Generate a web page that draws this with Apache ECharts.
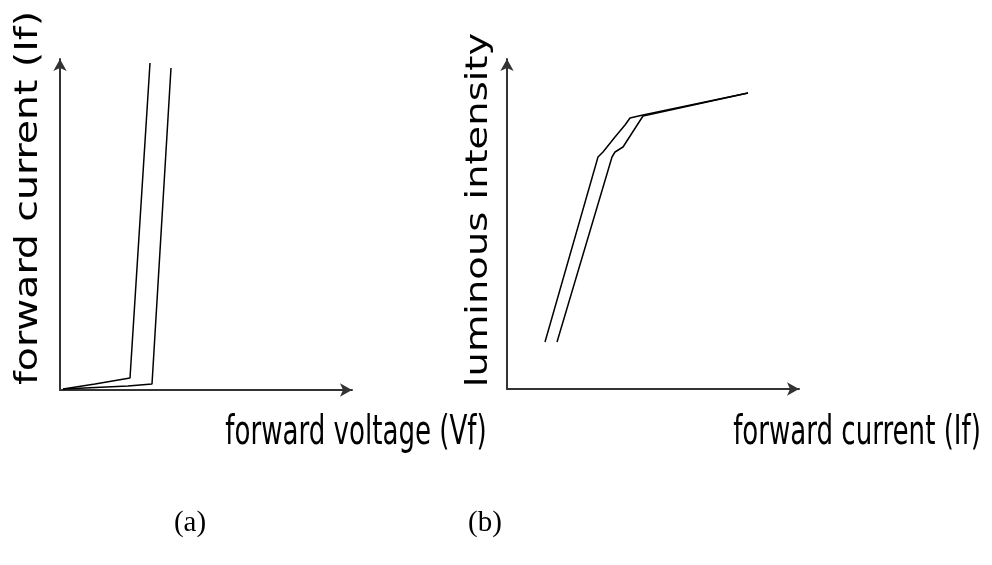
<!DOCTYPE html>
<html>
<head>
<meta charset="utf-8">
<script src="https://cdn.jsdelivr.net/npm/echarts@6/dist/echarts.min.js"></script>
<style>
html,body{margin:0;padding:0;background:#fff;}
#c{width:992px;height:565px;}
</style>
</head>
<body>
<div id="c"></div>
<script>
// (a) forward voltage vs forward current, two curves (schematic units)
var aLeftV  = [3, 35, 70, 90];
var aLeftI  = [1, 6, 12, 327];
var aRightV = [3, 68, 92, 111];
var aRightI = [1, 4, 6, 322];
// (b) forward current vs luminous intensity, two curves
var bLeftI  = [38, 91, 96, 108, 118, 123, 136, 241];
var bLeftL  = [47, 232, 237, 252, 264, 271, 274, 296];
var bRightI = [50, 105, 108, 116, 136, 241];
var bRightL = [47, 232, 237, 242, 273, 296];

var axisMax = [292, 331, 292, 330];
var titles = {
  aY: 'forward current (If)',
  aX: 'forward voltage (Vf)',
  bY: 'luminous intensity',
  bX: 'forward current (If)',
  aCap: '(a)',
  bCap: '(b)'
};

function zip(xs, ys){ return xs.map(function(v,i){ return [v, ys[i]]; }); }

function axis(gi, max){
  return {
    type: 'value', gridIndex: gi, min: 0, max: max,
    axisLine: { show: true, onZero: false, symbol: ['none','arrow'], symbolSize: [10, 12],
                lineStyle: { color: '#333', width: 2 } },
    axisTick: { show: false }, axisLabel: { show: false }, splitLine: { show: false }
  };
}
function line(xi, data){
  return { type: 'line', xAxisIndex: xi, yAxisIndex: xi, data: data, showSymbol: false,
           symbol: 'none', lineStyle: { color: '#000', width: 1.5 }, silent: true };
}

var chart = echarts.init(document.getElementById('c'));
chart.setOption({
  animation: false,
  backgroundColor: '#fff',
  grid: [
    { left: 60, top: 59, width: 292, height: 331 },
    { left: 507, top: 59, width: 292, height: 330 }
  ],
  xAxis: [axis(0, axisMax[0]), axis(1, axisMax[2])],
  yAxis: [axis(0, axisMax[1]), axis(1, axisMax[3])],
  series: [
    line(0, zip(aLeftV, aLeftI)),
    line(0, zip(aRightV, aRightI)),
    line(1, zip(bLeftI, bLeftL)),
    line(1, zip(bRightI, bRightL))
  ],
  graphic: [
    { type: 'text', x: 29, y: 198, rotation: Math.PI/2, scaleX: 1.23,
      style: { text: titles.aY, font: '32px "DejaVu Sans"', fill: '#000', textAlign: 'center', textVerticalAlign: 'middle' } },
    { type: 'text', x: 479, y: 210, rotation: Math.PI/2, scaleX: 1.24,
      style: { text: titles.bY, font: '31px "DejaVu Sans"', fill: '#000', textAlign: 'center', textVerticalAlign: 'middle' } },
    { type: 'text', x: 356, y: 434, scaleY: 1.38,
      style: { text: titles.aX, font: '29px "DejaVu Sans Condensed"', fill: '#000', textAlign: 'center', textVerticalAlign: 'middle' } },
    { type: 'text', x: 857, y: 434, scaleY: 1.38,
      style: { text: titles.bX, font: '29px "DejaVu Sans Condensed"', fill: '#000', textAlign: 'center', textVerticalAlign: 'middle' } },
    { type: 'text', x: 190, y: 523,
      style: { text: titles.aCap, font: '29px "Liberation Serif"', fill: '#000', textAlign: 'center', textVerticalAlign: 'middle' } },
    { type: 'text', x: 485, y: 523,
      style: { text: titles.bCap, font: '29px "Liberation Serif"', fill: '#000', textAlign: 'center', textVerticalAlign: 'middle' } }
  ]
});
</script>
</body>
</html>
